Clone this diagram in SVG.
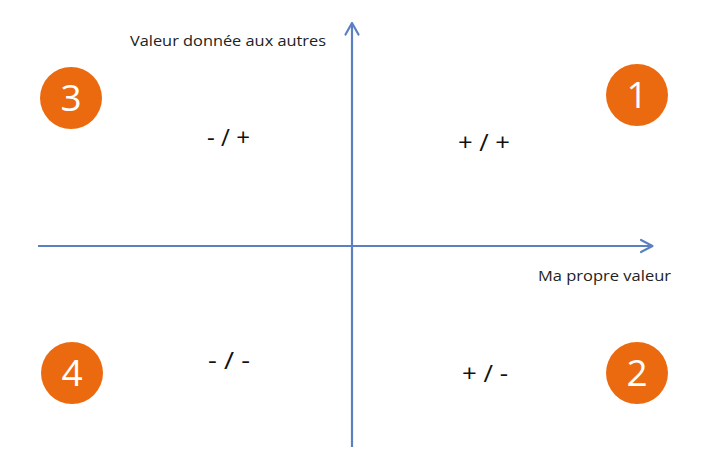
<svg xmlns="http://www.w3.org/2000/svg" width="722" height="462" viewBox="0 0 722 462">
<style>
.axis{stroke:#5B80C2;stroke-width:2.2;fill:none}
.head{stroke:#5B80C2;stroke-width:2.2;fill:none;stroke-linecap:round;stroke-linejoin:round}
.badge{fill:#EC6A0F}
.num{font-family:"Open Sans","Liberation Sans",sans-serif;font-size:37px;fill:#FFFFFF;text-anchor:middle}
.lbl{font-family:"Open Sans","Liberation Sans",sans-serif;font-size:15px;fill:#222222}
.q{font-family:"Open Sans","Liberation Sans",sans-serif;font-size:23px;fill:#111111}
</style>
<rect width="722" height="462" fill="#FFFFFF"/>
<g id="connectors">
<line class="axis" x1="352" y1="447" x2="352" y2="24"/>
<polyline class="head" points="345.5,34.5 352,23 358.5,34.5"/>
<line class="axis" x1="38" y1="246" x2="651" y2="246"/>
<polyline class="head" points="641,240 652.5,246 641,252"/>
</g>
<g id="label-y"><text class="lbl" x="130" y="46" textLength="196" lengthAdjust="spacingAndGlyphs">Valeur donnée aux autres</text></g>
<g id="label-x"><text class="lbl" x="538" y="281" textLength="133" lengthAdjust="spacingAndGlyphs">Ma propre valeur</text></g>
<g id="node-1"><circle class="badge" cx="637" cy="95" r="31"/><text class="num" x="637" y="108">1</text></g>
<g id="node-2"><circle class="badge" cx="637" cy="373" r="31"/><text class="num" x="637" y="386">2</text></g>
<g id="node-3"><circle class="badge" cx="71" cy="98" r="31"/><text class="num" x="71" y="111">3</text></g>
<g id="node-4"><circle class="badge" cx="72" cy="373" r="31"/><text class="num" x="72" y="386">4</text></g>
<g id="q1"><text class="q" x="458" y="151" textLength="52" lengthAdjust="spacingAndGlyphs">+ / +</text></g>
<g id="q2"><text class="q" x="462" y="382" textLength="46" lengthAdjust="spacingAndGlyphs">+ / -</text></g>
<g id="q3"><text class="q" x="207" y="146" textLength="43" lengthAdjust="spacingAndGlyphs">- / +</text></g>
<g id="q4"><text class="q" x="208" y="369" textLength="42" lengthAdjust="spacingAndGlyphs">- / -</text></g>
</svg>
